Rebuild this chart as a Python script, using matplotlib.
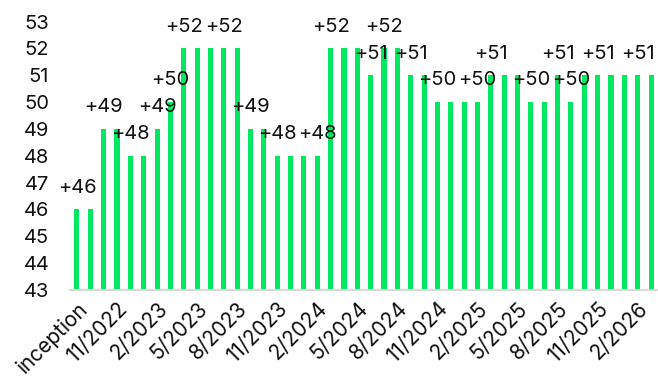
import matplotlib
matplotlib.use("Agg")
import matplotlib.pyplot as plt

plt.rcParams['font.family'] = ['Inter', 'DejaVu Sans']

# monthly values, inception .. 3/2026
values = [46, 46, 49, 49, 48, 48, 49, 50, 52, 52,
          52, 52, 52, 49, 49, 48, 48, 48, 48, 52,
          52, 52, 51, 52, 52, 51, 51, 50, 50, 50,
          50, 51, 51, 51, 50, 50, 51, 50, 51, 51,
          51, 51, 51, 51]
tick_labels = ['inception', '11/2022', '2/2023', '5/2023', '8/2023', '11/2023',
               '2/2024', '5/2024', '8/2024', '11/2024', '2/2025', '5/2025',
               '8/2025', '11/2025', '2/2026']
labelled = [0, 2, 4, 6, 7, 8, 11, 13, 15, 18, 19, 22, 23, 25, 27, 30, 31,
            34, 36, 37, 39, 42]

fig = plt.figure(figsize=(6.58, 3.8), dpi=100)
ax = fig.add_axes([0.1064, 0.2368, 0.8936, 0.7066])

x = list(range(len(values)))
ax.bar(x, [v - 43 for v in values], bottom=43, width=0.38, color='#00E85F')

for i in labelled:
    ax.text(i, values[i] + 0.62, f"+{values[i]}", ha='center', va='baseline',
            fontsize=14.5, color='#111111')

ax.set_xlim(-0.52, 43.52)
ax.set_ylim(43, 53)
ax.set_yticks(range(43, 54))
ax.tick_params(axis='y', length=0, pad=15, labelsize=14.5, labelcolor='#111111')
ax.set_xticks(x[::3])
ax.set_xticklabels(tick_labels, rotation=45, ha='right', va='top',
                   rotation_mode='anchor')
ax.tick_params(axis='x', length=0, pad=6, labelsize=15, labelcolor='#111111')

for s in ['top', 'right', 'left']:
    ax.spines[s].set_visible(False)
ax.spines['bottom'].set_color('#d9d9d9')
ax.spines['bottom'].set_linewidth(1.5)

fig.savefig('out.png', dpi=100)
